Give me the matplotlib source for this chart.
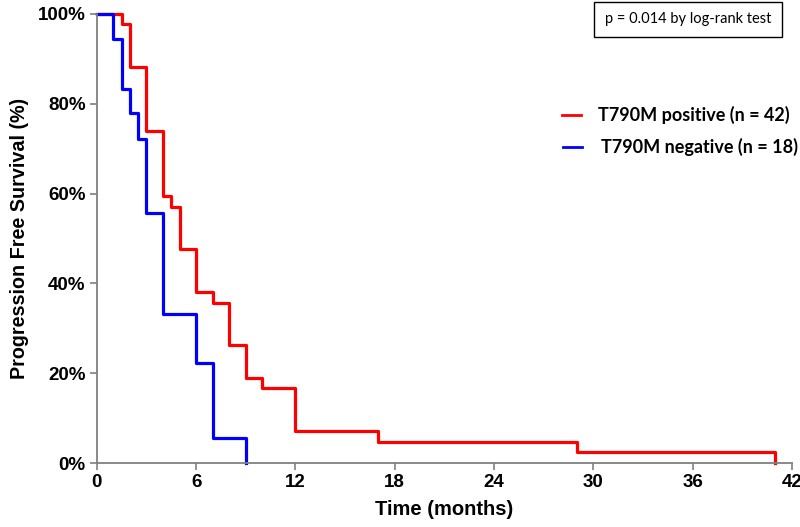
import matplotlib
matplotlib.use('Agg')
import matplotlib.pyplot as plt
from matplotlib.ticker import FuncFormatter

# Kaplan-Meier step data (months, % progression free)
pos_time = [0, 1.5, 2, 3, 4, 4.5, 5, 6, 7, 8, 9, 10, 12, 17, 29, 41]
pos_surv = [100, 97.6, 88.1, 73.8, 59.5, 57.1, 47.6, 38.1, 35.7, 26.2, 19.0, 16.7, 7.1, 4.8, 2.4, 0]
neg_time = [0, 1, 1.5, 2, 2.5, 3, 4, 6, 7, 9]
neg_surv = [100, 94.4, 83.3, 77.8, 72.2, 55.6, 33.3, 22.2, 5.6, 0]

pos_label = 'T790M positive (n = 42)'
neg_label = 'T790M negative (n = 18)'
p_text = 'p = 0.014 by log-rank test'

x_ticks = [0, 6, 12, 18, 24, 30, 36, 42]
y_ticks = [0, 20, 40, 60, 80, 100]

plt.rcParams['font.family'] = ['Liberation Sans', 'DejaVu Sans']

fig = plt.figure(figsize=(8, 5.27), dpi=100)
ax = fig.add_axes([0.121, 0.121, 0.869, 0.853])

ax.step(pos_time, pos_surv, where='post', color='#ff0000', lw=2.3, clip_on=False)
ax.step(neg_time, neg_surv, where='post', color='#0000ff', lw=2.3, clip_on=False)

ax.set_xlim(0, 42)
ax.set_ylim(0, 100)
ax.set_xticks(x_ticks)
ax.set_yticks(y_ticks)
ax.yaxis.set_major_formatter(FuncFormatter(lambda v, p: f'{int(v)}%'))

for s in ['top', 'right']:
    ax.spines[s].set_visible(False)
for s in ['left', 'bottom']:
    ax.spines[s].set_color('#808080')
    ax.spines[s].set_linewidth(1.3)
ax.tick_params(direction='out', length=5, width=1.2, color='#808080',
               labelsize=13.5, pad=3)
for lab in ax.get_xticklabels() + ax.get_yticklabels():
    lab.set_fontweight('bold')

ax.set_xlabel('Time (months)', fontsize=14.5, fontweight='bold', labelpad=6)
ax.set_ylabel('Progression Free Survival (%)', fontsize=14.2, fontweight='bold', labelpad=6)

# p-value box
fig.text(0.86, 0.963, p_text, ha='center', va='center', fontsize=10.5,
         family=['Lato', 'DejaVu Sans'],
         bbox=dict(boxstyle='square,pad=0.75', fc='white', ec='black', lw=1))

# legend
fig.lines.append(plt.Line2D([0.702, 0.726], [0.782, 0.782], color='#ff0000', lw=2,
                            transform=fig.transFigure))
fig.lines.append(plt.Line2D([0.704, 0.728], [0.722, 0.722], color='#0000ff', lw=2,
                            transform=fig.transFigure))
fig.text(0.747, 0.782, pos_label, ha='left', va='center', fontsize=13,
         fontweight='bold', family=['Lato', 'DejaVu Sans'])
fig.text(0.751, 0.722, neg_label, ha='left', va='center', fontsize=13,
         fontweight='bold', family=['Lato', 'DejaVu Sans'])

fig.savefig('out.png', dpi=100)
